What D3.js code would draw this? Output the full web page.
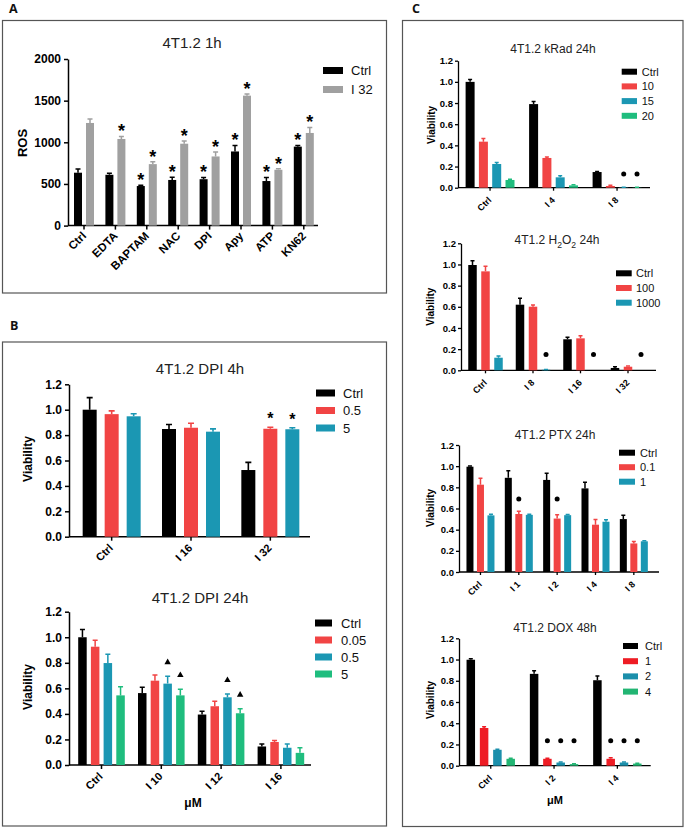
<!DOCTYPE html>
<html><head><meta charset="utf-8">
<script src="https://cdn.jsdelivr.net/npm/d3@7"></script>
<style>
body{margin:0;background:#fff}
svg{display:block}
text{font-family:"Liberation Sans",Arial,Helvetica,sans-serif}
</style>
</head><body>
<svg id="fig" width="685" height="830"></svg>
<script>
// ---------- Panel A: ROS ----------
const rosCategories = ["Ctrl","EDTA","BAPTAM","NAC","DPI","Apy","ATP","KN62"];
const rosSeries = ["Ctrl","I 32"];
const rosCtrl = [635,610,475,548,557,890,535,948];
const rosCtrlErr = [45,18,8,32,20,72,42,15];
const rosI32 = [1232,1040,738,983,830,1560,670,1112];
const rosI32Err = [48,30,28,32,55,20,12,66];
const rosCtrlStar = [0,0,1,1,1,1,1,1];
const rosI32Star = [0,1,1,1,1,1,1,1];
const rosTicks = [0,500,1000,1500,2000];

// ---------- Panel B: DPI 4h ----------
const dpi4Categories = ["Ctrl","I 16","I 32"];
const dpi4Series = ["Ctrl","0.5","5"];
const dpi4Ctrl = [1.0,0.848,0.525];
const dpi4CtrlErr = [0.095,0.035,0.06];
const dpi4D05 = [0.965,0.858,0.85];
const dpi4D05Err = [0.026,0.035,0.012];
const dpi4D5 = [0.948,0.827,0.846];
const dpi4D5Err = [0.02,0.022,0.012];
const dpi4D05Star = [0,0,1];
const dpi4D5Star = [0,0,1];

// ---------- Panel B: DPI 24h ----------
const dpi24Categories = ["Ctrl","I 10","I 12","I 16"];
const dpi24Series = ["Ctrl","0.05","0.5","5"];
const dpi24Ctrl = [1.0,0.563,0.395,0.145];
const dpi24CtrlErr = [0.06,0.045,0.026,0.02];
const dpi24D005 = [0.926,0.66,0.46,0.18];
const dpi24D005Err = [0.05,0.045,0.04,0.012];
const dpi24D05 = [0.798,0.637,0.53,0.135];
const dpi24D05Err = [0.068,0.057,0.025,0.03];
const dpi24D5 = [0.545,0.545,0.405,0.095];
const dpi24D5Err = [0.068,0.048,0.035,0.04];
const dpi24D05Tri = [0,1,1,0];
const dpi24D5Tri = [0,1,1,0];

// ---------- Panel C: kRad 24h ----------
const kradCategories = ["Ctrl","I 4","I 8"];
const kradSeries = ["Ctrl","10","15","20"];
const kradCtrl = [1.0,0.79,0.148];
const kradCtrlErr = [0.022,0.025,0.006];
const krad10 = [0.435,0.281,0.016];
const krad10Err = [0.03,0.01,0.006];
const krad15 = [0.224,0.098,0.003];
const krad15Err = [0.015,0.015,0.002];
const krad20 = [0.073,0.022,0.002];
const krad20Err = [0.006,0.006,0.002];
const krad15Dot = [0,0,1];
const krad20Dot = [0,0,1];
const kradDotLevel = 0.13;

// ---------- Panel C: H2O2 24h ----------
const h2o2Categories = ["Ctrl","I 8","I 16","I 32"];
const h2o2Series = ["Ctrl","100","1000"];
const h2o2Ctrl = [0.995,0.62,0.293,0.022];
const h2o2CtrlErr = [0.04,0.06,0.02,0.012];
const h2o2100 = [0.935,0.601,0.302,0.034];
const h2o2100Err = [0.047,0.016,0.025,0.006];
const h2o21000 = [0.119,0.005,0,0];
const h2o21000Err = [0.016,0.002,0,0];
const h2o21000Dot = [0,1,1,1];
const h2o2DotLevel = 0.15;

// ---------- Panel C: PTX 24h ----------
const ptxCategories = ["Ctrl","I 1","I 2","I 4","I 8"];
const ptxSeries = ["Ctrl","0.1","1"];
const ptxCtrl = [0.995,0.89,0.87,0.79,0.5];
const ptxCtrlErr = [0.006,0.066,0.062,0.058,0.036];
const ptx01 = [0.825,0.548,0.505,0.447,0.27];
const ptx01Err = [0.062,0.025,0.035,0.048,0.018];
const ptx1 = [0.535,0.54,0.537,0.475,0.29];
const ptx1Err = [0.01,0.006,0.006,0.018,0.005];
const ptx01Dot = [0,1,1,0,0];
const ptxDotLevel = 0.69;

// ---------- Panel C: DOX 48h ----------
const doxCategories = ["Ctrl","I 2","I 4"];
const doxSeries = ["Ctrl","1","2","4"];
const doxCtrl = [0.998,0.865,0.805];
const doxCtrlErr = [0.01,0.03,0.04];
const dox1 = [0.355,0.065,0.065];
const dox1Err = [0.012,0.006,0.01];
const dox2 = [0.15,0.03,0.03];
const dox2Err = [0.004,0.004,0.005];
const dox4 = [0.065,0.015,0.02];
const dox4Err = [0.004,0.003,0.004];
const dox1Dot = [0,1,1];
const dox2Dot = [0,1,1];
const dox4Dot = [0,1,1];
const doxDotLevel = 0.236;

const viabTicks = [0,0.2,0.4,0.6,0.8,1.0,1.2];

const cBlack = "#000000", cGray = "#a0a0a0", cRed = "#f14444", cTeal = "#1b97b3", cGreen = "#1fbd7e";
const cRedDox = "#ee1c24", cTealDox = "#1b8fab", cGreenDox = "#22b573";

const svg = d3.select("#fig");
svg.append("rect").attr("width",685).attr("height",830).attr("fill","#fff");

// panel boxes and letters
const boxes = [
  {x:2.5,y:20.5,w:384,h:272.5,label:"A",lx:9,ly:13},
  {x:2.5,y:342,w:384,h:484,label:"B",lx:10,ly:330},
  {x:402.5,y:20.5,w:280.5,h:806,label:"C",lx:412,ly:13}
];
boxes.forEach(b=>{
  svg.append("rect").attr("x",b.x).attr("y",b.y).attr("width",b.w).attr("height",b.h)
    .attr("fill","none").attr("stroke","#555").attr("stroke-width",1.2);
  svg.append("text").attr("x",b.lx).attr("y",b.ly).text(b.label)
    .style("font-family","'Open Sans',sans-serif").style("font-weight","bold").style("font-size","12.5px").attr("fill","#111");
});

function chart(cfg){
  const g = svg.append("g");
  const y = d3.scaleLinear().domain([0,cfg.yMax]).range([cfg.y0,cfg.yTop]);
  const x = d3.scaleBand().domain(cfg.categories).range(cfg.xRange);
  const n = cfg.series.length;
  const Wg = cfg.step*n - cfg.step + cfg.barW;
  const xi = d3.scaleBand().domain(d3.range(n)).range([-Wg/2, Wg/2]).paddingInner(1 - cfg.barW/cfg.step).paddingOuter(0);
  const cx = c => x(c) + x.bandwidth()/2;

  // axes
  const ya = g.append("g").attr("transform",`translate(${cfg.axisX},0)`)
    .call(d3.axisLeft(y).tickValues(cfg.yTicks).tickFormat(cfg.yFmt).tickSize(cfg.tickLen).tickSizeOuter(0).tickPadding(cfg.tickPad||3));
  ya.selectAll("path,line").attr("stroke","#000").attr("stroke-width",cfg.axisW);
  ya.selectAll("text").style("font-size",cfg.yTickFont+"px").style("font-weight","bold").attr("fill","#000")
    .style("font-family","'Liberation Sans',Arial,sans-serif");

  const xa = g.append("g").attr("transform",`translate(0,${cfg.y0})`)
    .call(d3.axisBottom(x).tickSize(cfg.tickLen).tickFormat(()=>""));
  xa.select(".domain").remove();
  xa.selectAll("line").attr("stroke","#000").attr("stroke-width",cfg.axisW);
  g.append("line").attr("x1",cfg.axisX).attr("x2",cfg.xLineEnd).attr("y1",cfg.y0).attr("y2",cfg.y0)
    .attr("stroke","#000").attr("stroke-width",cfg.axisW);

  g.selectAll("text.xl").data(cfg.categories).join("text").attr("class","xl")
    .attr("transform",c=>`translate(${cx(c)+cfg.xlDx},${cfg.y0+cfg.xlDy}) rotate(-45)`)
    .attr("text-anchor","end").style("font-size",cfg.xTickFont+"px").style("font-weight","bold").attr("fill","#000")
    .text(c=>c);

  // bars, errors, marks
  cfg.series.forEach((s,i)=>{
    const sg = g.append("g");
    const rows = cfg.categories.map((c,j)=>({c, v:s.values[j], e:s.errors[j], m:s.marks?s.marks[j]:0}));
    const bx = d => cx(d.c) + xi(i);
    sg.selectAll("path.err").data(rows.filter(d=>d.e>0)).join("path").attr("class","err")
      .attr("d",d=>{const xc=bx(d)+xi.bandwidth()/2, yb=y(d.v), yt=y(d.v+d.e);
        return `M${xc},${yb}V${yt}M${xc-cfg.capW/2},${yt}H${xc+cfg.capW/2}`;})
      .attr("stroke",s.color).attr("stroke-width",cfg.errW).attr("fill","none");
    sg.selectAll("rect").data(rows).join("rect")
      .attr("x",bx).attr("width",xi.bandwidth())
      .attr("y",d=>y(d.v)).attr("height",d=>Math.max(0,cfg.y0-y(d.v))).attr("fill",s.color);
    const mk = rows.filter(d=>d.m);
    const mx = d => bx(d)+xi.bandwidth()/2;
    if(cfg.markType==="star"){
      sg.selectAll("text.mk").data(mk).join("text").attr("class","mk")
        .attr("x",mx).attr("y",d=>y(d.v+d.e)-cfg.markOffset+cfg.markFont*0.55)
        .attr("text-anchor","middle").style("font-size",cfg.markFont+"px").style("font-weight","bold").attr("fill","#000").text("*");
    } else if(cfg.markType==="tri"){
      sg.selectAll("path.mk").data(mk).join("path").attr("class","mk")
        .attr("transform",d=>`translate(${mx(d)},${y(d.v+d.e)-cfg.markOffset})`)
        .attr("d",d3.symbol(d3.symbolTriangle,cfg.markSize)).attr("fill","#000");
    } else if(cfg.markType==="dot"){
      sg.selectAll("circle.mk").data(mk).join("circle").attr("class","mk")
        .attr("cx",mx).attr("cy",y(cfg.markLevel)).attr("r",cfg.markR).attr("fill","#000");
    }
  });

  // title
  const t = g.append("text").attr("x",cfg.titleX).attr("y",cfg.titleY).attr("text-anchor","middle")
    .style("font-size",cfg.titleFont+"px").attr("fill","#222");
  cfg.titleParts.forEach(p=>{
    if(p.sub){ t.append("tspan").attr("dy",cfg.titleFont*0.3).style("font-size",(cfg.titleFont*0.72)+"px").text(p.t);
    } else if(p.after){ t.append("tspan").attr("dy",-cfg.titleFont*0.3).text(p.t);
    } else t.append("tspan").text(p.t);
  });

  // y label
  g.append("text").attr("transform",`translate(${cfg.yLabelX},${cfg.yLabelY}) rotate(-90)`)
    .attr("text-anchor","middle").attr("dy","0.35em").style("font-size",cfg.yLabelFont+"px").style("font-weight","bold")
    .attr("fill","#000").text(cfg.yLabel);

  if(cfg.xLabel){
    g.append("text").attr("x",cfg.xLabelX).attr("y",cfg.xLabelY).attr("text-anchor","middle")
      .style("font-size",cfg.xLabelFont+"px").style("font-weight","bold").attr("fill","#000").text(cfg.xLabel);
  }

  // legend
  const L = cfg.legend;
  cfg.series.forEach((s,i)=>{
    const yy = L.y + i*L.step;
    g.append("rect").attr("x",L.x).attr("y",yy-L.h/2).attr("width",L.w).attr("height",L.h).attr("fill",s.color);
    g.append("text").attr("x",L.tx).attr("y",yy).attr("dy","0.36em").style("font-size",L.font+"px").attr("fill","#111").text(s.name);
  });
}

const fmt1 = d3.format(".1f");

// Panel A
chart({
  categories: rosCategories,
  series: [
    {name:rosSeries[0], values:rosCtrl, errors:rosCtrlErr, color:cBlack, marks:rosCtrlStar},
    {name:rosSeries[1], values:rosI32, errors:rosI32Err, color:cGray, marks:rosI32Star}
  ],
  yMax:2000, yTicks:rosTicks, yFmt:d3.format("d"), y0:225.6, yTop:59,
  xRange:[68.3,319.5], axisX:68, xLineEnd:318, step:12, barW:8, capW:5, errW:1.5,
  tickLen:4, axisW:1.5, yTickFont:12, xTickFont:11.5, xlDx:3, xlDy:11,
  titleParts:[{t:"4T1.2 1h"}], titleX:192, titleY:48, titleFont:15,
  yLabel:"ROS", yLabelX:22, yLabelY:143, yLabelFont:13,
  legend:{x:323, w:20, h:7, y:70.5, step:19, tx:351, font:13},
  markType:"star", markFont:18, markOffset:9
});

// Panel B top
chart({
  categories: dpi4Categories,
  series: [
    {name:dpi4Series[0], values:dpi4Ctrl, errors:dpi4CtrlErr, color:cBlack},
    {name:dpi4Series[1], values:dpi4D05, errors:dpi4D05Err, color:cRed, marks:dpi4D05Star},
    {name:dpi4Series[2], values:dpi4D5, errors:dpi4D5Err, color:cTeal, marks:dpi4D5Star}
  ],
  yMax:1.2, yTicks:viabTicks, yFmt:fmt1, y0:536.7, yTop:384.3,
  xRange:[72,310], axisX:69, xLineEnd:310, step:22, barW:14, capW:6, errW:1.6,
  tickLen:4, axisW:1.5, yTickFont:12, xTickFont:11, xlDx:2, xlDy:12,
  titleParts:[{t:"4T1.2 DPI 4h"}], titleX:200, titleY:374, titleFont:15,
  yLabel:"Viability", yLabelX:28, yLabelY:459, yLabelFont:12,
  legend:{x:316, w:19, h:7, y:393, step:17.5, tx:343, font:13},
  markType:"star", markFont:16, markOffset:12
});

// Panel B bottom
chart({
  categories: dpi24Categories,
  series: [
    {name:dpi24Series[0], values:dpi24Ctrl, errors:dpi24CtrlErr, color:cBlack},
    {name:dpi24Series[1], values:dpi24D005, errors:dpi24D005Err, color:cRed},
    {name:dpi24Series[2], values:dpi24D05, errors:dpi24D05Err, color:cTeal, marks:dpi24D05Tri},
    {name:dpi24Series[3], values:dpi24D5, errors:dpi24D5Err, color:cGreen, marks:dpi24D5Tri}
  ],
  yMax:1.2, yTicks:viabTicks, yFmt:fmt1, y0:765, yTop:611.7,
  xRange:[71.6,310.8], axisX:69, xLineEnd:311, step:12.7, barW:8.5, capW:5, errW:1.5,
  tickLen:4, axisW:1.5, yTickFont:12, xTickFont:11, xlDx:2, xlDy:12,
  titleParts:[{t:"4T1.2 DPI 24h"}], titleX:200, titleY:603, titleFont:15,
  yLabel:"Viability", yLabelX:28, yLabelY:687, yLabelFont:12,
  xLabel:"μM", xLabelX:193, xLabelY:807, xLabelFont:12,
  legend:{x:315, w:17, h:7, y:623, step:17, tx:341, font:13},
  markType:"tri", markOffset:14, markSize:18
});

const cCommon = {yMax:1.2, yTicks:viabTicks, yFmt:fmt1, capW:4, errW:1.5, tickLen:3, axisW:1.3,
  yTickFont:9.5, xTickFont:9, xlDx:2, xlDy:13, titleFont:12, yLabelFont:10, markType:"dot", markR:2.5, tickPad:2};

// C1 kRad
chart(Object.assign({}, cCommon, {
  categories: kradCategories,
  series: [
    {name:kradSeries[0], values:kradCtrl, errors:kradCtrlErr, color:cBlack},
    {name:kradSeries[1], values:krad10, errors:krad10Err, color:cRed},
    {name:kradSeries[2], values:krad15, errors:krad15Err, color:cTeal, marks:krad15Dot},
    {name:kradSeries[3], values:krad20, errors:krad20Err, color:cGreen, marks:krad20Dot}
  ],
  y0:187.7, yTop:60.7, xRange:[458.3,648.8], axisX:458, xLineEnd:650, step:13.3, barW:9,
  titleParts:[{t:"4T1.2 kRad 24h"}], titleX:553, titleY:53,
  yLabel:"Viability", yLabelX:431, yLabelY:125,
  legend:{x:621.7, w:15.3, h:6, y:71.7, step:14.7, tx:641.7, font:11},
  markLevel:kradDotLevel
}));

// C2 H2O2
chart(Object.assign({}, cCommon, {
  categories: h2o2Categories,
  series: [
    {name:h2o2Series[0], values:h2o2Ctrl, errors:h2o2CtrlErr, color:cBlack},
    {name:h2o2Series[1], values:h2o2100, errors:h2o2100Err, color:cRed},
    {name:h2o2Series[2], values:h2o21000, errors:h2o21000Err, color:cTeal, marks:h2o21000Dot}
  ],
  y0:370.3, yTop:243.3, xRange:[461.75,651.75], axisX:461, xLineEnd:656, step:13, barW:8.5,
  titleParts:[{t:"4T1.2 H"},{t:"2",sub:true},{t:"O",after:true},{t:"2",sub:true},{t:" 24h",after:true}],
  titleX:557, titleY:244,
  yLabel:"Viability", yLabelX:430, yLabelY:306.7,
  legend:{x:616, w:15.7, h:6, y:273.3, step:14.7, tx:636, font:11},
  markLevel:h2o2DotLevel
}));

// C3 PTX
chart(Object.assign({}, cCommon, {
  categories: ptxCategories,
  series: [
    {name:ptxSeries[0], values:ptxCtrl, errors:ptxCtrlErr, color:cBlack},
    {name:ptxSeries[1], values:ptx01, errors:ptx01Err, color:cRed, marks:ptx01Dot},
    {name:ptxSeries[2], values:ptx1, errors:ptx1Err, color:cTeal}
  ],
  y0:572, yTop:445, xRange:[461.3,653], axisX:459, xLineEnd:659, step:10.5, barW:7,
  titleParts:[{t:"4T1.2 PTX 24h"}], titleX:555, titleY:439,
  yLabel:"Viability", yLabelX:430, yLabelY:508,
  legend:{x:619, w:16, h:6, y:452.7, step:14.5, tx:640, font:11},
  markLevel:ptxDotLevel
}));

// C4 DOX
chart(Object.assign({}, cCommon, {
  categories: doxCategories,
  series: [
    {name:doxSeries[0], values:doxCtrl, errors:doxCtrlErr, color:cBlack},
    {name:doxSeries[1], values:dox1, errors:dox1Err, color:cRedDox, marks:dox1Dot},
    {name:doxSeries[2], values:dox2, errors:dox2Err, color:cTealDox, marks:dox2Dot},
    {name:doxSeries[3], values:dox4, errors:dox4Err, color:cGreenDox, marks:dox4Dot}
  ],
  y0:765.7, yTop:638.3, xRange:[459.1,649], axisX:459, xLineEnd:650.7, step:13.3, barW:8.5,
  titleParts:[{t:"4T1.2 DOX 48h"}], titleX:555, titleY:632,
  yLabel:"Viability", yLabelX:430.7, yLabelY:700,
  xLabel:"μM", xLabelX:555, xLabelY:804, xLabelFont:11,
  legend:{x:623, w:15, h:6, y:646, step:15.2, tx:645, font:11},
  markLevel:doxDotLevel
}));
</script>
</body></html>
